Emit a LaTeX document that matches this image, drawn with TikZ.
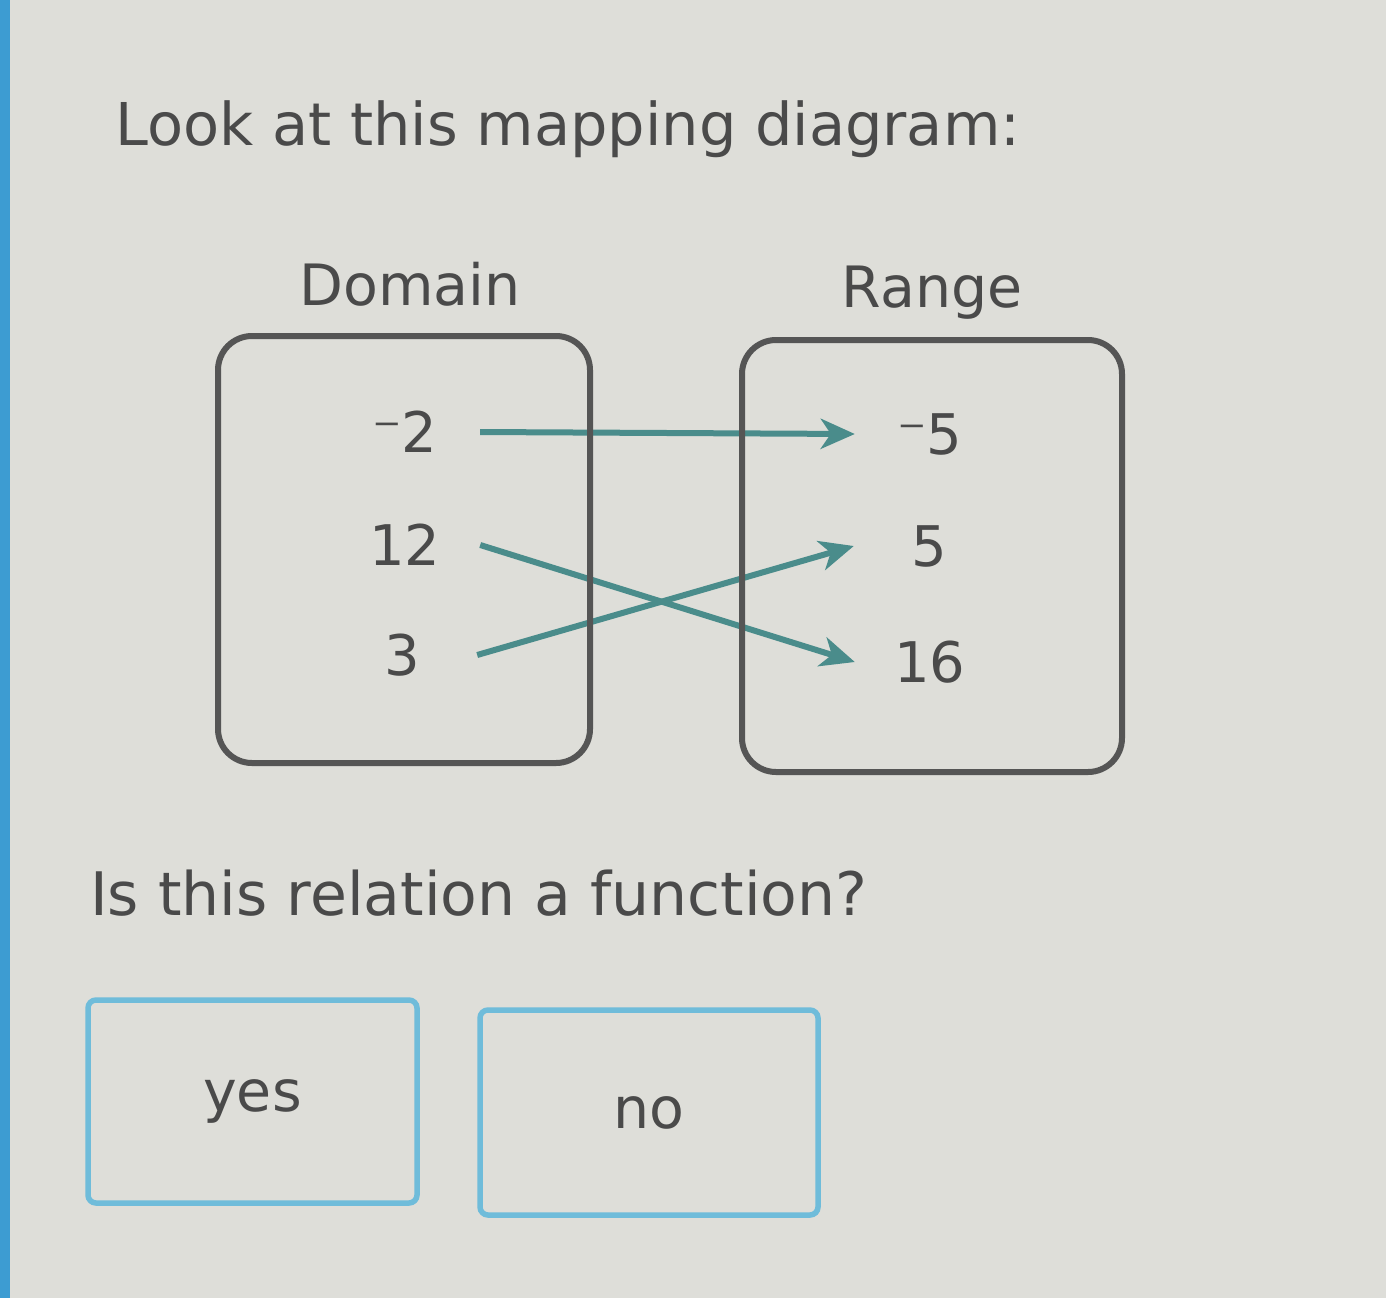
\documentclass[tikz,border=0pt]{standalone}
\usepackage{fontspec}
\setmainfont{DejaVu Sans}
\usetikzlibrary{arrows.meta}
\definecolor{bgc}{HTML}{DEDED9}
\definecolor{stripc}{HTML}{3D9CD2}
\definecolor{txtc}{HTML}{4A4A4A}
\definecolor{boxc}{HTML}{555555}
\definecolor{tealc}{HTML}{4A8C8B}
\definecolor{btnc}{HTML}{6FBCDA}
\tikzset{
  setbox/.style={draw=boxc, line width=6pt, rounded corners=34pt, inner sep=0pt},
  btnbox/.style={draw=btnc, line width=5.5pt, rounded corners=8pt, inner sep=0pt, text=txtc,
     font=\fontsize{57}{68}\selectfont},
  lbl/.style={text=txtc, inner sep=0pt, font=\fontsize{57}{68}\selectfont},
  dnum/.style={text=txtc, inner sep=0pt, minimum width=150pt, font=\fontsize{56}{66}\selectfont},
  maparrow/.style={draw=tealc, line width=6pt, -{Stealth[length=34pt,width=30pt,inset=10pt]}},
}
\begin{document}
\begin{tikzpicture}[x=1pt,y=-1pt]
\useasboundingbox (0,0) rectangle (1386,1298);
\fill[bgc] (0,0) rectangle (1386,1298);
\fill[stripc] (0,0) rectangle (10,1298);

\node[lbl, anchor=base west, font=\fontsize{59}{70}\selectfont] (title) at (115,145) {Look at this mapping diagram:};

\node[lbl, anchor=base] (domlbl) at (410,305) {Domain};
\node[lbl, anchor=base] (ranlbl) at (932,307) {Range};

\node[dnum] (d1) at (405,432) {⁻2};
\node[dnum] (d2) at (405,545) {12};
\node[dnum] (d3) at (402,655) {3};

\node[dnum] (r1) at (930,434) {⁻5};
\node[dnum] (r2) at (929,546) {5};
\node[dnum] (r3) at (930,662) {16};

\draw[maparrow] (d1.east) -- (r1.west);
\draw[maparrow] (d2.east) -- (r3.west);
\draw[maparrow] (d3.east) -- (r2.west);

\node[setbox, minimum width=372pt, minimum height=427pt] (dom) at (404,549.5) {};
\node[setbox, minimum width=380pt, minimum height=432pt] (ran) at (932,556) {};

\node[lbl, anchor=base west, font=\fontsize{60}{72}\selectfont] (question) at (90,915) {Is this relation a function?};

\node[btnbox, minimum width=329pt, minimum height=203pt] (yes) at (252.5,1101.5) {yes};
\node[btnbox, minimum width=338pt, minimum height=205pt] (no) at (649,1112.5) {no};
\end{tikzpicture}
\end{document}
